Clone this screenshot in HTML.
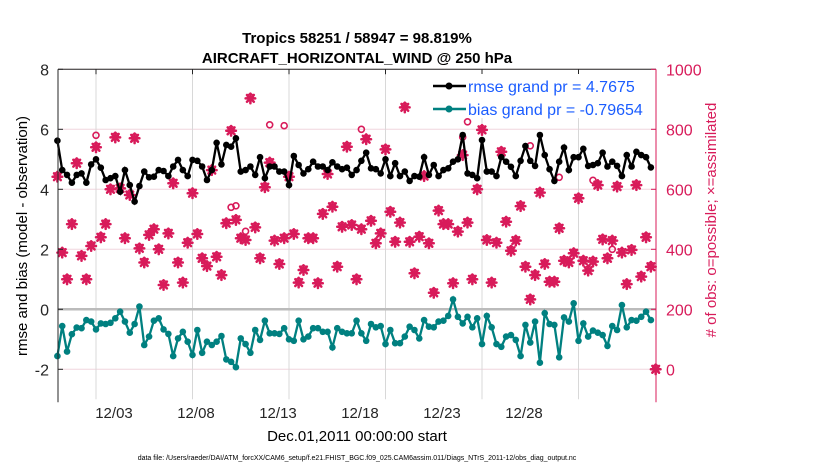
<!DOCTYPE html>
<html><head><meta charset="utf-8"><style>
body{margin:0;background:#fff;font-family:"Liberation Sans",sans-serif;}
svg text{font-family:"Liberation Sans",sans-serif;}
</style></head><body>
<svg id="chart" width="830" height="470" xmlns="http://www.w3.org/2000/svg">
<rect width="830" height="470" fill="#fff"/>
<text x="357" y="43" text-anchor="middle" font-size="15" font-weight="bold">Tropics 58251 / 58947 = 98.819%</text>
<text x="357" y="63" text-anchor="middle" font-size="15" font-weight="bold">AIRCRAFT_HORIZONTAL_WIND @ 250 hPa</text>
<g id="grid"></g>
<g id="marks"></g>
<g id="axes"></g>
<g>
<rect x="430" y="74" width="222" height="44" fill="#fff"/>
<line x1="433" y1="86" x2="466" y2="86" stroke="#000" stroke-width="2.5"/>
<circle cx="449" cy="86" r="3.5" fill="#000"/>
<text x="468" y="92" font-size="16" fill="#1a5cff">rmse grand pr = 4.7675</text>
<line x1="433" y1="109" x2="466" y2="109" stroke="#008080" stroke-width="2.5"/>
<circle cx="449" cy="109" r="3.5" fill="#008080"/>
<text x="468" y="115" font-size="16" fill="#1a5cff">bias grand pr = -0.79654</text>
</g>
<text transform="translate(27,236) rotate(-90)" text-anchor="middle" font-size="15">rmse and bias (model - observation)</text>
<text transform="translate(716,220) rotate(-90)" text-anchor="middle" font-size="15" fill="#d81b5a"># of obs: o=possible; ×=assimilated</text>
<text x="357" y="441" text-anchor="middle" font-size="15">Dec.01,2011 00:00:00 start</text>
<text x="357" y="460" text-anchor="middle" font-size="7">data file: /Users/raeder/DAI/ATM_forcXX/CAM6_setup/f.e21.FHIST_BGC.f09_025.CAM6assim.011/Diags_NTrS_2011-12/obs_diag_output.nc</text>
</svg>
<script>
const rmse=[5.62,4.64,4.48,4.22,4.48,4.53,4.22,4.83,5.0,4.72,4.31,4.37,4.44,3.92,4.64,4.14,3.59,4.11,4.59,4.40,4.42,4.64,4.61,4.44,4.76,4.98,4.64,4.44,4.98,4.95,4.76,4.31,
4.64,5.55,4.83,5.48,5.42,5.70,4.59,4.64,4.76,4.48,5.07,4.37,4.76,4.76,4.59,4.59,4.14,5.11,4.81,4.53,4.67,4.92,4.76,4.76,4.64,4.90,4.76,4.67,4.72,4.48,4.64,
4.95,5.22,4.70,4.67,4.53,5.0,4.44,4.87,4.44,4.59,4.28,4.44,4.42,5.07,4.48,4.81,4.44,4.64,4.70,4.92,5.0,5.81,4.53,4.48,4.37,5.64,4.59,4.59,4.44,5.07,4.92,
4.75,4.44,4.95,5.44,4.95,4.78,5.81,5.14,4.67,4.28,4.92,5.39,4.64,5.07,5.07,5.35,4.78,4.81,4.87,5.22,4.76,4.92,4.78,4.44,5.14,4.76,5.25,5.14,5.07,4.73];
const bias=[-1.56,-0.56,-1.41,-0.83,-0.61,-0.63,-0.36,-0.41,-0.67,-0.47,-0.49,-0.45,-0.30,-0.08,-0.41,-0.78,-0.49,0.09,-1.19,-0.91,-0.38,-0.30,-0.67,-0.82,-1.56,-0.97,-0.75,-1.08,-1.52,-0.69,-1.45,-1.08,
-1.19,-1.08,-0.89,-1.67,-1.75,-1.93,-0.97,-1.16,-1.45,-0.69,-1.02,-0.38,-0.80,-0.80,-0.82,-0.63,-1.0,-1.05,-0.38,-1.0,-0.91,-0.63,-0.63,-0.75,-0.75,-1.27,-0.63,-0.75,-0.80,-0.80,-0.38,
-0.80,-1.05,-0.49,-0.60,-0.56,-1.16,-0.69,-1.13,-1.13,-0.91,-0.58,-0.69,-0.97,-0.36,-0.58,-0.60,-0.41,-0.38,-0.22,0.33,-0.25,-0.47,-0.25,-0.60,-0.30,-1.16,-0.22,-0.60,-1.16,-1.25,-0.91,
-0.86,-1.02,-1.56,-0.52,-1.11,-0.41,-1.78,-0.13,-0.49,-0.52,-1.60,-0.27,-0.41,0.20,-1.05,-0.47,-0.91,-0.71,-0.78,-0.86,-1.22,-0.56,-0.69,0.14,-0.60,-0.36,-0.38,-0.25,-0.08,-0.36];
const assimilated=[642,389,300,484,687,378,300,411,740,440,484,600,773,603,437,581,770,403,356,448,467,400,281,453,620,356,289,422,587,451,370,344,
664,375,314,487,795,498,437,431,903,473,370,607,689,429,351,437,642,451,289,331,437,437,287,518,651,542,342,475,742,481,300,
467,767,495,420,453,733,525,425,489,873,425,320,442,644,420,255,529,484,484,287,459,714,489,300,600,798,431,289,422,725,492,
395,429,544,342,233,314,589,351,292,292,470,362,356,387,570,362,329,359,614,433,370,429,609,389,284,398,614,309,440,342,0];
const possibleIdx=[8,36,37,39,44,47,63,84,85,98,104,111,115];
const possibleVal=[780,540,545,460,815,812,800,774,825,745,640,630,400];
const yTicksL=[-2,0,2,4,6,8];
const yTicksR=[0,200,400,600,800,1000];
const xTickLabels=["12/03","12/08","12/13","12/18","12/23","12/28"];
const xTickDays=[3,8,13,18,23,28];

const X0=58,X1=656,Y0=69.3,Y1=399.3;
const xDay=d=>96+(d-3)*19.3;
const xIdx=i=>xDay(1+i*0.25);
const yL=v=>309.3-v*30;
const yR=c=>369.3-c*0.3;
const NS="http://www.w3.org/2000/svg";
function mk(tag,attrs,parent){const e=document.createElementNS(NS,tag);for(const k in attrs)e.setAttribute(k,attrs[k]);parent.appendChild(e);return e;}
const grid=document.getElementById('grid'),marks=document.getElementById('marks'),axes=document.getElementById('axes');

mk('rect',{x:X0,y:Y0,width:X1-X0,height:Y1-Y0,fill:'#fff'},grid);
yTicksR.forEach(c=>{const l=mk('line',{x1:X0,x2:X1,y1:yR(c),y2:yR(c),stroke:'#f0d6de','stroke-width':1},grid);

});
xTickDays.forEach(d=>{const l=mk('line',{x1:xDay(d),x2:xDay(d),y1:Y0,y2:Y1,stroke:'#d8d8d8','stroke-width':1},grid);

});
const zl=mk('line',{x1:X0,x2:X1,y1:yL(0),y2:yL(0),stroke:'#bbbbbb','stroke-width':2.5},grid);



function star(cx,cy,parent,name){
  const g=mk('g',{stroke:'#d81b5a','stroke-width':2.5,'stroke-linecap':'round'},parent);
  
  
  const r=4.8;
  for(let a=0;a<4;a++){const t=a*Math.PI/4;mk('line',{x1:cx-r*Math.cos(t),y1:cy-r*Math.sin(t),x2:cx+r*Math.cos(t),y2:cy+r*Math.sin(t)},g);}
}
assimilated.forEach((c,i)=>{star(xIdx(i),yR(c),marks,'assimilated-marker');
const o=mk('circle',{cx:xIdx(i),cy:yR(c)-1.5,r:3,fill:'none',stroke:'#d81b5a','stroke-width':1.5},marks);

});
possibleIdx.forEach((i,k)=>{const o=mk('circle',{cx:xIdx(i),cy:yR(possibleVal[k]),r:3,fill:'none',stroke:'#d81b5a','stroke-width':1.6},marks);

});

function series(vals,color,name){
  const p=mk('polyline',{points:vals.map((v,i)=>xIdx(i)+','+yL(v)).join(' '),fill:'none',stroke:color,'stroke-width':2.3},marks);
  
  
  vals.forEach((v,i)=>{const c=mk('circle',{cx:xIdx(i),cy:yL(v),r:3.3,fill:color},marks);
  
  });
}
series(bias,'#008080','bias');
series(rmse,'#000','rmse');

const la=mk('line',{x1:X0,x2:X0,y1:Y0,y2:Y1+3,stroke:'#262626','stroke-width':1},axes);


const ta=mk('line',{x1:X0,x2:X1,y1:Y0,y2:Y0,stroke:'#262626','stroke-width':1},axes);


const ra=mk('line',{x1:X1,x2:X1,y1:Y0,y2:Y1+3,stroke:'#d81b5a','stroke-width':1},axes);


yTicksL.forEach(v=>{mk('line',{x1:X0,x2:X0+5,y1:yL(v),y2:yL(v),stroke:'#262626'},axes);
const t=mk('text',{x:X0-9,y:yL(v)+6,'text-anchor':'end','font-size':16,fill:'#262626'},axes);t.textContent=v;

});
yTicksR.forEach(c=>{mk('line',{x1:X1-5,x2:X1,y1:yR(c),y2:yR(c),stroke:'#d81b5a'},axes);
const t=mk('text',{x:X1+10,y:yR(c)+6,'font-size':16,fill:'#d81b5a'},axes);t.textContent=c;

});
xTickDays.forEach((d,k)=>{mk('line',{x1:xDay(d),x2:xDay(d),y1:Y0,y2:Y0+5,stroke:'#262626'},axes);
const t=mk('text',{x:114+k*82,y:418,'text-anchor':'middle','font-size':15,fill:'#262626'},axes);t.textContent=xTickLabels[k];

});
</script>
</body></html>
